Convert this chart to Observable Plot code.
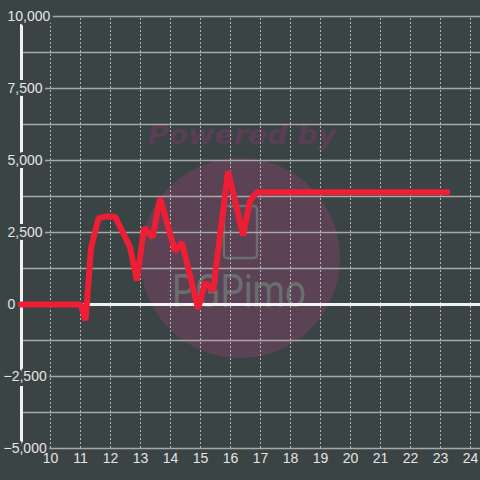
<!DOCTYPE html>
<html>
<head>
<meta charset="utf-8">
<script src="https://cdn.jsdelivr.net/npm/d3@7"></script>
<script src="https://cdn.jsdelivr.net/npm/@observablehq/plot@0.6"></script>
<style>
  html, body { margin: 0; padding: 0; background: #3b4444; }
  #wrap { position: relative; width: 480px; height: 480px; }
  #wm { position: absolute; left: 0; top: 0; z-index: 0; }
  #chart { position: absolute; left: 0; top: 0; z-index: 1; }
  #chart svg { background: transparent !important; }
</style>
</head>
<body>
<div id="wrap">
  <svg id="wm" width="480" height="480">
    <circle cx="240" cy="258" r="100" fill="#5b4254"></circle>
    <text x="148" y="144" font-family="DejaVu Sans, sans-serif" font-size="27" font-weight="bold" font-style="italic" textLength="188" lengthAdjust="spacingAndGlyphs" fill="#5a3e55">Powered by</text>
    <rect x="224" y="206" width="33" height="52" rx="3" fill="none" stroke="#6b6e6e" stroke-width="2.5"></rect>
    <text x="172" y="307" font-family="Roboto, Lato, sans-serif" font-size="46" font-weight="400" textLength="134" lengthAdjust="spacingAndGlyphs" fill="#6b6e6e">PGPimo</text>
  </svg>
  <div id="chart"></div>
</div>
<script>
// Data
const xs = [9, 11.0, 11.17, 11.35, 11.6, 11.87, 12.15, 12.65, 12.88, 13.12, 13.4, 13.65, 14.15, 14.38, 14.92, 15.15, 15.42, 15.92, 16.42, 16.65, 16.88, 23.23];
const ys = [0, 0, -550, 1950, 3000, 3060, 3050, 2000, 830, 2670, 2330, 3700, 1850, 2150, -150, 760, 490, 4620, 2400, 3600, 3900, 3900];
const xTicks = [10, 11, 12, 13, 14, 15, 16, 17, 18, 19, 20, 21, 22, 23, 24];
const yGrid = [-5000, -3750, -2500, -1250, 1250, 2500, 3750, 5000, 6250, 7500, 8750, 10000];
const yLabelsPos = [0, 2500, 5000, 7500, 10000];
const yLabelsNeg = [-5000, -2500];

const bg = "#3b4444";
const font = "Liberation Sans, Arial, sans-serif";
const data = xs.map((x, i) => ({x, y: ys[i]}));
const fmt = d3.format(",");
const labelStyle = {fontSize: 14, fill: "#e4e4e4", stroke: bg, strokeWidth: 6, paintOrder: "stroke", textAnchor: "start"};

const chart = Plot.plot({
  width: 480,
  height: 480,
  marginLeft: 20,
  marginRight: 0,
  marginTop: 16,
  marginBottom: 32,
  style: {background: "transparent", fontFamily: font},
  x: {domain: [9, 24.333], label: null},
  y: {domain: [-5000, 10000], axis: null, label: null},
  marks: [
    Plot.ruleX(xTicks, {y1: -5000, y2: 10000, stroke: "#b4b4b4", strokeWidth: 1, strokeDasharray: "2,2"}),
    Plot.ruleY(yGrid, {stroke: "#a8a8a8", strokeWidth: 1.5}),
    Plot.ruleY([0], {stroke: "#f2f2f2", strokeWidth: 3}),
    Plot.ruleX([9], {y1: -5000, y2: 10000, stroke: "#f2f2f2", strokeWidth: 3, dx: 1}),
    Plot.line(data, {x: "x", y: "y", stroke: "#ee1e35", strokeWidth: 6, strokeLinejoin: "miter"}),
    Plot.text(yLabelsPos, {x: () => 9, y: d => d, text: d => fmt(d), dx: -13, ...labelStyle}),
    Plot.text(yLabelsNeg, {x: () => 9, y: d => d, text: d => fmt(d), dx: -17, ...labelStyle}),
    Plot.axisX(xTicks, {tickSize: 0, tickPadding: 5, fontSize: 14, fill: "#e4e4e4", label: null, tickFormat: d => String(d)})
  ]
});
document.getElementById("chart").appendChild(chart);
</script>
</body>
</html>
